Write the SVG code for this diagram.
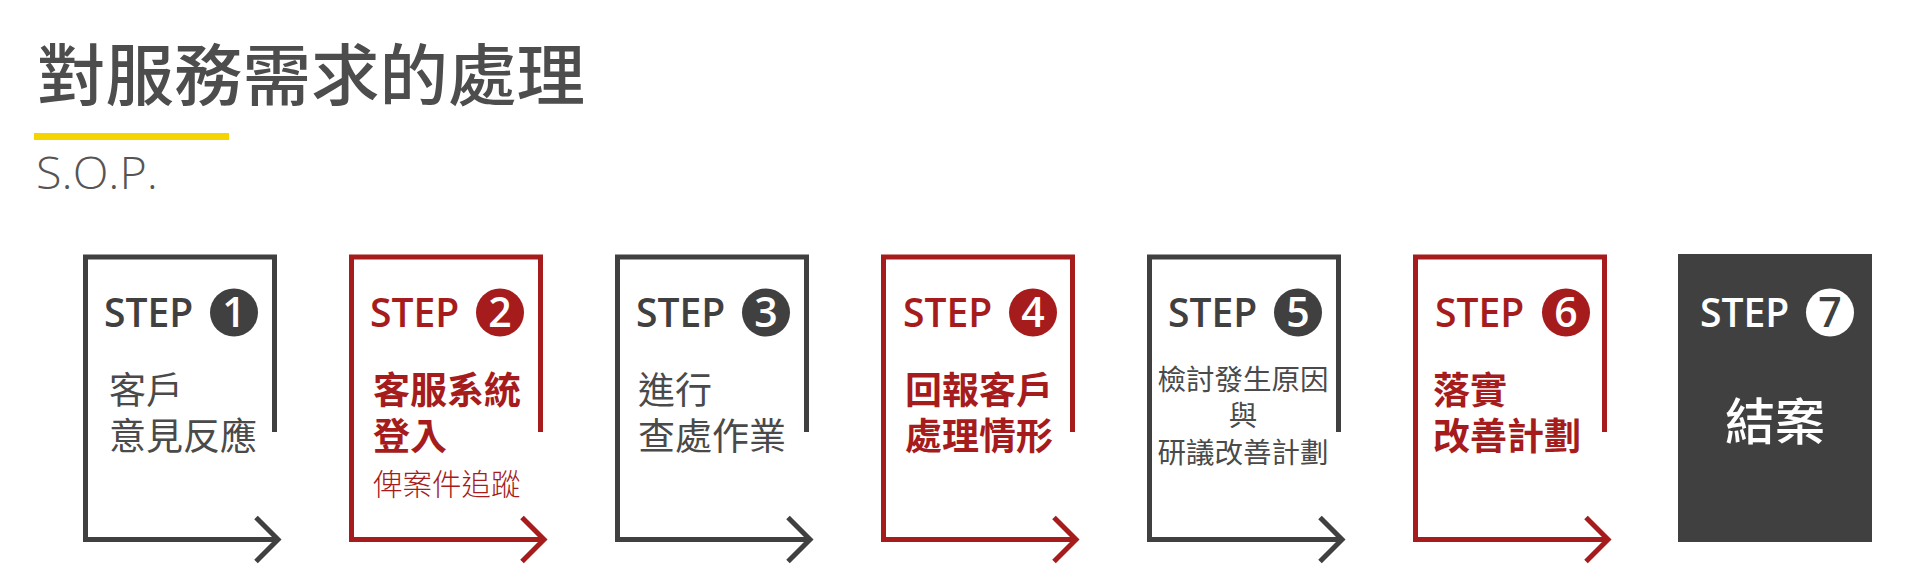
<svg xmlns="http://www.w3.org/2000/svg" width="1920" height="580" viewBox="0 0 1920 580">
<style>
.frame{fill:none;stroke-width:5;stroke-linejoin:miter;stroke-linecap:butt}
.g{stroke:#404040}
.r{stroke:#A61C1C}
.step{font-family:"Open Sans","Liberation Sans",sans-serif;font-size:39px;font-weight:600}
.num{font-family:"Open Sans","Liberation Sans",sans-serif;font-size:41px;font-weight:600;fill:#fff;text-anchor:middle}
.cjk{font-family:"Noto Sans CJK TC","Noto Sans CJK SC",sans-serif}
.main{font-size:37px}
.tg{fill:#4a4a4a;font-weight:400}
.tr{fill:#A61C1C;font-weight:700}
</style>
<rect width="1920" height="580" fill="#fff"/>
<g id="title">
<text x="37" y="100" class="cjk" font-size="67" font-weight="500" fill="#4d4d4d" textLength="548" lengthAdjust="spacingAndGlyphs">對服務需求的處理</text>
<rect x="34" y="133" width="195" height="7" fill="#F5D500"/>
<text x="36" y="189" font-family="'Open Sans','Liberation Sans',sans-serif" font-weight="300" font-size="45" fill="#555" textLength="122" lengthAdjust="spacingAndGlyphs">S.O.P.</text>
</g>
<g id="step1" transform="translate(83,0)">
<path class="frame g" d="M191.5,432 V257 H2.5 V539.5 H194"/>
<text x="21" y="327" class="step" fill="#404040">STEP</text>
<circle cx="151" cy="312.5" r="24" fill="#404040"/>
<text x="151" y="327" class="num">1</text>
<text class="cjk main tg" x="26" y="404">客戶</text>
<text class="cjk main tg" x="26" y="450">意見反應</text>
</g>
<g id="step2" transform="translate(349,0)">
<path class="frame r" d="M191.5,432 V257 H2.5 V539.5 H194"/>
<text x="21" y="327" class="step" fill="#A61C1C">STEP</text>
<circle cx="151" cy="312.5" r="24" fill="#A61C1C"/>
<text x="151" y="327" class="num">2</text>
<text class="cjk main tr" x="24" y="404">客服系統</text>
<text class="cjk main tr" x="24" y="450">登入</text>
<text class="cjk" x="24" y="495" font-size="29.5" font-weight="300" fill="#A61C1C">俾案件追蹤</text>
</g>
<g id="step3" transform="translate(615,0)">
<path class="frame g" d="M191.5,432 V257 H2.5 V539.5 H194"/>
<text x="21" y="327" class="step" fill="#404040">STEP</text>
<circle cx="151" cy="312.5" r="24" fill="#404040"/>
<text x="151" y="327" class="num">3</text>
<text class="cjk main tg" x="23" y="404">進行</text>
<text class="cjk main tg" x="23" y="450">查處作業</text>
</g>
<g id="step4" transform="translate(881,0)">
<path class="frame r" d="M191.5,432 V257 H2.5 V539.5 H194"/>
<text x="22" y="327" class="step" fill="#A61C1C">STEP</text>
<circle cx="152" cy="312.5" r="24" fill="#A61C1C"/>
<text x="152" y="327" class="num">4</text>
<text class="cjk main tr" x="24" y="404">回報客戶</text>
<text class="cjk main tr" x="24" y="450">處理情形</text>
</g>
<g id="step5" transform="translate(1147,0)">
<path class="frame g" d="M191.5,432 V257 H2.5 V539.5 H194"/>
<text x="21" y="327" class="step" fill="#404040">STEP</text>
<circle cx="151" cy="312.5" r="24" fill="#404040"/>
<text x="151" y="327" class="num">5</text>
<g class="cjk tg" font-size="28.5" text-anchor="middle">
<text x="96" y="390">檢討發生原因</text>
<text x="96" y="426">與</text>
<text x="96" y="463">研議改善計劃</text>
</g>
</g>
<g id="step6" transform="translate(1413,0)">
<path class="frame r" d="M191.5,432 V257 H2.5 V539.5 H194"/>
<text x="22" y="327" class="step" fill="#A61C1C">STEP</text>
<circle cx="153" cy="312.5" r="24" fill="#A61C1C"/>
<text x="153" y="327" class="num">6</text>
<text class="cjk main tr" x="20" y="404">落實</text>
<text class="cjk main tr" x="20" y="450">改善計劃</text>
</g>
<g id="step7" transform="translate(1678,0)">
<rect x="0" y="254" width="194" height="288" fill="#404040"/>
<text x="22" y="327" class="step" fill="#fff">STEP</text>
<circle cx="152" cy="312.5" r="24" fill="#fff"/>
<text x="152" y="327" class="num" style="fill:#404040">7</text>
<text class="cjk" x="97" y="440" font-size="50" font-weight="500" fill="#fff" text-anchor="middle">結案</text>
</g>
<g id="connectors" class="frame">
<path class="g" d="M256,517.5 L278,539.5 L256,561.5"/>
<path class="r" d="M522,517.5 L544,539.5 L522,561.5"/>
<path class="g" d="M788,517.5 L810,539.5 L788,561.5"/>
<path class="r" d="M1054,517.5 L1076,539.5 L1054,561.5"/>
<path class="g" d="M1320,517.5 L1342,539.5 L1320,561.5"/>
<path class="r" d="M1586,517.5 L1608,539.5 L1586,561.5"/>
</g>
</svg>
